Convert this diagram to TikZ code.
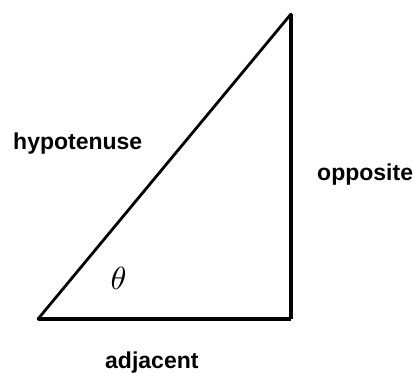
\documentclass[tikz,border=0pt]{standalone}
\usepackage{fontspec}
\setmainfont{Liberation Sans}
\begin{document}
\begin{tikzpicture}[x=1pt,y=-1pt,
  lbl/.style={inner sep=0pt,font=\fontsize{23}{26}\selectfont\bfseries},
  side/.style={draw=black,line cap=square}]
\useasboundingbox (0,0) rectangle (414,372);
\coordinate (A) at (38,319);
\coordinate (B) at (291,319);
\coordinate (C) at (291,14);
\draw[side,line width=2.8pt,line cap=round] (A) -- (C);
\draw[side,line width=3.4pt] (A) -- (B);
\draw[side,line width=4.2pt] (B) -- (C);
\node[lbl,anchor=base west] (hyp) at (13,149) {hypotenuse};
\node[lbl,anchor=base west] (opp) at (317,180) {opposite};
\node[lbl,anchor=base west] (adj) at (105,368) {adjacent};
\node[inner sep=0pt] (th) at (118.5,278.5) {\scalebox{3.2}{$\theta$}};
\end{tikzpicture}
\end{document}
